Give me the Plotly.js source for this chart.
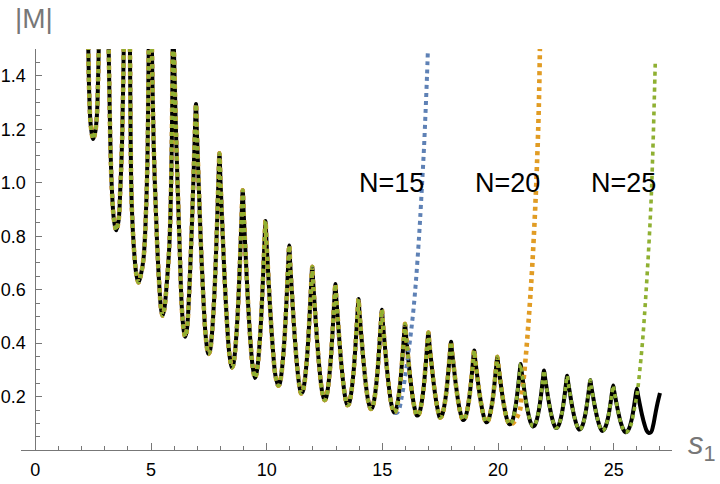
<!DOCTYPE html>
<html>
<head>
<meta charset="utf-8">
<script src="https://cdn.plot.ly/plotly-3.0.1.min.js"></script>
<style>html,body{margin:0;padding:0;background:#fff}#chart{width:720px;height:484px}</style>
</head>
<body>
<div id="chart"></div>
<script>
// exact |M| curve (black)
const exactS = [
  2.20, 2.27, 2.30, 2.33, 2.40, 2.50, 2.59, 2.66, 2.71, 2.74, 2.78, 2.95, 3.12, 3.17, 3.24, 3.31, 3.40, 3.50, 3.60, 3.67, 3.75, 3.82, 3.87, 3.96,
  4.05, 4.09, 4.12, 4.17, 4.29, 4.37, 4.46, 4.56, 4.68, 4.79, 4.86, 4.90, 4.97,
  5.04, 5.11, 5.26, 5.37, 5.44, 5.50, 5.57, 5.66, 5.80, 5.90, 5.935, 5.965,
  5.99, 6.09, 6.23, 6.33, 6.41, 6.48, 6.55, 6.62, 6.74, 6.84, 6.90, 6.945,
  6.985, 7.065, 7.165, 7.275, 7.375, 7.48, 7.54, 7.62, 7.74, 7.84, 7.91, 7.96,
  8.00, 8.08, 8.18, 8.29, 8.39, 8.50, 8.545, 8.625, 8.745, 8.845, 8.915, 8.965,
  9.005, 9.085, 9.185, 9.295, 9.395, 9.49, 9.53, 9.61, 9.73, 9.83, 9.90, 9.95,
  9.99, 10.07, 10.17, 10.28, 10.38, 10.50, 10.555, 10.635, 10.755, 10.855, 10.925, 10.975,
  11.015, 11.095, 11.195, 11.305, 11.405, 11.49, 11.55, 11.63, 11.75, 11.85, 11.92, 11.97,
  12.01, 12.09, 12.19, 12.30, 12.40, 12.50, 12.55, 12.63, 12.75, 12.85, 12.92, 12.97,
  13.01, 13.09, 13.19, 13.30, 13.40, 13.49, 13.55, 13.63, 13.75, 13.85, 13.92, 13.97,
  14.01, 14.09, 14.19, 14.30, 14.40, 14.50, 14.56, 14.64, 14.76, 14.86, 14.93, 14.98,
  15.02, 15.10, 15.20, 15.31, 15.41, 15.50, 15.56, 15.64, 15.76, 15.86, 15.93, 15.98,
  16.02, 16.10, 16.20, 16.31, 16.41, 16.49, 16.57, 16.65, 16.77, 16.87, 16.94, 16.99,
  17.03, 17.11, 17.21, 17.32, 17.42, 17.48, 17.55, 17.63, 17.75, 17.85, 17.92, 17.97,
  18.01, 18.09, 18.19, 18.30, 18.40, 18.48, 18.55, 18.63, 18.75, 18.85, 18.92, 18.97,
  19.01, 19.09, 19.19, 19.30, 19.40, 19.48, 19.55, 19.63, 19.75, 19.85, 19.92, 19.97,
  20.01, 20.09, 20.19, 20.30, 20.40, 20.49, 20.56, 20.64, 20.76, 20.86, 20.93, 20.98,
  21.02, 21.10, 21.20, 21.31, 21.41, 21.50, 21.57, 21.65, 21.77, 21.87, 21.94, 21.99,
  22.03, 22.11, 22.21, 22.32, 22.42, 22.50, 22.57, 22.65, 22.77, 22.87, 22.94, 22.99,
  23.03, 23.11, 23.21, 23.32, 23.42, 23.50, 23.57, 23.65, 23.77, 23.87, 23.94, 23.99,
  24.03, 24.11, 24.21, 24.32, 24.42, 24.50, 24.56, 24.64, 24.76, 24.86, 24.93, 24.98,
  25.02, 25.10, 25.20, 25.31, 25.41, 25.50, 25.58, 25.66, 25.78, 25.88, 25.95, 26.00,
  26.04, 26.12, 26.22, 26.33, 26.43, 26.52, 26.62, 26.70, 26.80, 26.90, 27.00
];
const exactM = [
  2.20, 1.60, 1.45, 1.33, 1.21, 1.163, 1.19, 1.25, 1.38, 1.50, 1.70, 2.50, 1.70, 1.50, 1.16, 0.972, 0.86, 0.822, 0.86, 0.972, 1.16, 1.50, 1.75, 2.20,
  1.75, 1.50, 1.16, 0.91, 0.72, 0.655, 0.627, 0.655, 0.72, 0.91, 1.16, 1.50, 1.85,
  1.50, 1.16, 0.78, 0.60, 0.525, 0.503, 0.525, 0.60, 0.78, 1.16, 1.50, 1.60,
  1.50, 1.16, 0.78, 0.536, 0.45, 0.424, 0.45, 0.536, 0.78, 1.03, 1.20, 1.294,
  1.182, 0.986, 0.752, 0.547, 0.416, 0.360, 0.368, 0.420, 0.585, 0.810, 0.998, 1.110,
  1.014, 0.846, 0.645, 0.469, 0.357, 0.309, 0.316, 0.362, 0.508, 0.707, 0.873, 0.972,
  0.888, 0.740, 0.565, 0.410, 0.312, 0.270, 0.276, 0.317, 0.446, 0.622, 0.769, 0.857,
  0.783, 0.654, 0.500, 0.364, 0.278, 0.241, 0.246, 0.283, 0.398, 0.555, 0.686, 0.765,
  0.699, 0.583, 0.444, 0.323, 0.245, 0.212, 0.217, 0.250, 0.354, 0.496, 0.615, 0.686,
  0.626, 0.521, 0.397, 0.287, 0.217, 0.187, 0.191, 0.222, 0.317, 0.447, 0.556, 0.621,
  0.567, 0.472, 0.358, 0.259, 0.195, 0.168, 0.172, 0.200, 0.287, 0.406, 0.505, 0.565,
  0.516, 0.429, 0.327, 0.236, 0.179, 0.154, 0.158, 0.184, 0.265, 0.377, 0.469, 0.525,
  0.479, 0.398, 0.302, 0.218, 0.164, 0.141, 0.144, 0.167, 0.240, 0.340, 0.422, 0.472,
  0.431, 0.359, 0.274, 0.198, 0.151, 0.130, 0.133, 0.155, 0.223, 0.316, 0.394, 0.440,
  0.402, 0.335, 0.256, 0.186, 0.141, 0.122, 0.125, 0.145, 0.207, 0.292, 0.363, 0.405,
  0.370, 0.309, 0.236, 0.171, 0.131, 0.113, 0.116, 0.134, 0.191, 0.269, 0.334, 0.373,
  0.341, 0.285, 0.218, 0.159, 0.121, 0.105, 0.107, 0.125, 0.178, 0.251, 0.312, 0.349,
  0.319, 0.266, 0.203, 0.147, 0.112, 0.097, 0.099, 0.115, 0.165, 0.232, 0.288, 0.322,
  0.294, 0.245, 0.187, 0.136, 0.103, 0.089, 0.091, 0.106, 0.152, 0.214, 0.267, 0.298,
  0.272, 0.227, 0.173, 0.126, 0.096, 0.083, 0.085, 0.099, 0.142, 0.200, 0.249, 0.278,
  0.254, 0.212, 0.161, 0.117, 0.089, 0.077, 0.079, 0.092, 0.133, 0.188, 0.234, 0.262,
  0.239, 0.199, 0.152, 0.110, 0.083, 0.072, 0.074, 0.086, 0.123, 0.174, 0.217, 0.242,
  0.221, 0.184, 0.141, 0.102, 0.078, 0.067, 0.069, 0.080, 0.116, 0.165, 0.206, 0.230,
  0.210, 0.175, 0.133, 0.096, 0.072, 0.064, 0.068, 0.090, 0.135, 0.178, 0.214
];

// truncated approximations: they follow the exact curve up to a point, then leave it
const n15Until = 15.41;
const n15TailS = [15.50, 15.62, 15.72, 15.84, 15.95, 16.05, 16.15, 16.25, 16.35, 16.45, 16.55, 16.63, 16.72, 16.80, 16.87, 16.93, 16.97];
const n15TailM = [0.143, 0.139, 0.152, 0.200, 0.255, 0.315, 0.380, 0.450, 0.530, 0.630, 0.750, 0.860, 1.000, 1.130, 1.270, 1.400, 1.500];

const n20Until = 20.40;
const n20TailS = [20.49, 20.60, 20.72, 20.85, 20.95, 21.02, 21.10, 21.21, 21.31, 21.40, 21.48, 21.56, 21.63, 21.68, 21.74, 21.78, 21.81];
const n20TailM = [0.098, 0.098, 0.108, 0.128, 0.150, 0.200, 0.260, 0.360, 0.470, 0.580, 0.690, 0.820, 0.950, 1.060, 1.210, 1.350, 1.500];

const n25Until = 25.50;
const n25TailS = [25.60, 25.70, 25.78, 25.85, 25.94, 26.03, 26.13, 26.24, 26.34, 26.42, 26.49, 26.56, 26.62, 26.67, 26.72, 26.76, 26.80];
const n25TailM = [0.070, 0.085, 0.105, 0.136, 0.175, 0.222, 0.300, 0.400, 0.515, 0.620, 0.720, 0.830, 0.940, 1.060, 1.200, 1.330, 1.460];

const labelTexts = ["N=15", "N=20", "N=25"];
const labelS = [15.38, 20.41, 25.44];
const labelM = [1.0, 1.0, 1.0];

function truncated(until, tailS, tailM) {
  const s = [], m = [];
  for (let i = 0; i < exactS.length; i++) {
    if (exactS[i] <= until + 1e-9) { s.push(exactS[i]); m.push(exactM[i]); }
  }
  return {s: s.concat(tailS), m: m.concat(tailM)};
}
const n15 = truncated(n15Until, n15TailS, n15TailM);
const n20 = truncated(n20Until, n20TailS, n20TailM);
const n25 = truncated(n25Until, n25TailS, n25TailM);

const FONT = "Liberation Sans, Arial, Helvetica, sans-serif";
const DASH = "4px,4px";

const traces = [
  {x: exactS, y: exactM, mode: "lines", line: {color: "#000000", width: 4, shape: "spline", smoothing: 1}, hoverinfo: "skip"},
  {x: n15.s, y: n15.m, mode: "lines", line: {color: "#5E81B5", width: 4, shape: "spline", smoothing: 1, dash: DASH}, hoverinfo: "skip"},
  {x: n20.s, y: n20.m, mode: "lines", line: {color: "#E19C24", width: 4.6, shape: "spline", smoothing: 1, dash: DASH}, hoverinfo: "skip"},
  {x: n25.s, y: n25.m, mode: "lines", line: {color: "#8FB032", width: 3.6, shape: "spline", smoothing: 1, dash: DASH}, hoverinfo: "skip"}
];

const annotations = labelTexts.map((t, i) => ({
  x: labelS[i], y: labelM[i], xref: "x", yref: "y", text: t, showarrow: false,
  font: {family: FONT, size: 27, color: "#000"}, xanchor: "center", yanchor: "middle"
}));
annotations.push({
  xref: "paper", yref: "paper", x: 0.0204, y: 1.075, text: "|M|", showarrow: false,
  font: {family: FONT, size: 28, color: "#777"}, xanchor: "center", yanchor: "middle"
});
annotations.push({
  xref: "paper", yref: "paper", x: 1.022, y: 0.01, text: "<i>s</i><sub>1</sub>", showarrow: false,
  font: {family: FONT, size: 31, color: "#777"}, xanchor: "left", yanchor: "middle"
});

const layout = {
  width: 720, height: 484,
  margin: {l: 21, r: 48, t: 49, b: 34, pad: 0, autoexpand: false},
  paper_bgcolor: "#fff", plot_bgcolor: "#fff",
  showlegend: false,
  xaxis: {
    range: [-0.62, 27.52], showgrid: false, zeroline: false,
    showline: true, linecolor: "#777", linewidth: 1,
    ticks: "inside", ticklen: 7, tickcolor: "#777", tickwidth: 1,
    tick0: 0, dtick: 5,
    minor: {dtick: 1, tick0: 0, ticks: "inside", ticklen: 4.5, tickcolor: "#777", tickwidth: 1, showgrid: false},
    tickfont: {family: FONT, size: 18, color: "#000"},
    ticklabelstandoff: 3
  },
  yaxis: {
    range: [0.0005, 1.5], showgrid: false, zeroline: false,
    anchor: "free", position: 0.022,
    showline: true, linecolor: "#777", linewidth: 1,
    ticks: "inside", ticklen: 6, tickcolor: "#777", tickwidth: 1,
    tick0: 0, dtick: 0.2, tickformat: ".1f",
    minor: {dtick: 0.05, tick0: 0, ticks: "inside", ticklen: 4, tickcolor: "#777", tickwidth: 1, showgrid: false},
    tickfont: {family: FONT, size: 18, color: "#000"},
    ticklabelstandoff: 6
  },
  annotations: annotations
};

Plotly.newPlot("chart", traces, layout, {displayModeBar: false, staticPlot: true});
</script>
</body>
</html>
